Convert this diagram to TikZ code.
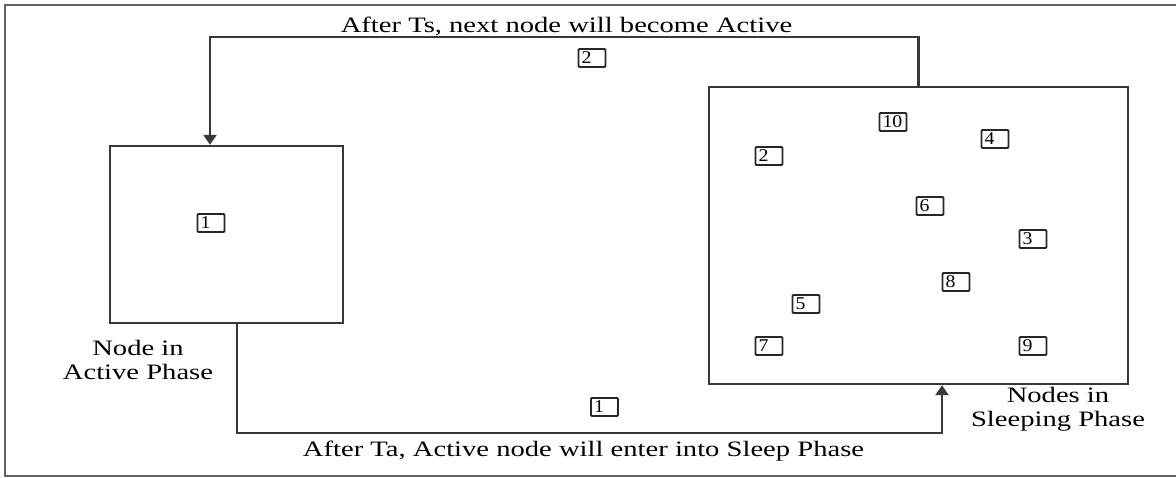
\documentclass[tikz,border=0pt]{standalone}
\usepackage{fontspec}
\setmainfont{Liberation Serif}
\usetikzlibrary{arrows.meta}
\newcommand{\hs}[1]{\scalebox{1.3}[1]{#1}}
\newcommand{\ds}[1]{\scalebox{1.1}[1]{#1}}
\begin{document}
\begin{tikzpicture}[x=1pt,y=-1pt,
  frame/.style={draw=black!62,line width=2pt},
  conn/.style={draw=black!78,line width=2.3pt},
  arr/.style={-{Triangle[width=13pt,length=10pt]}},
  bigbox/.style={draw=black!78,line width=2.4pt,inner sep=0pt},
  numbox/.style={draw=black!85,line width=1.8pt,rounded corners=1pt,
    minimum height=18pt,inner ysep=0pt,inner xsep=3pt,text width=21pt,
    align=left,font=\fontsize{18}{18}\selectfont,text=black},
  lbl/.style={font=\fontsize{22}{24.5}\selectfont,text=black,inner sep=0pt}]
\useasboundingbox (0,0) rectangle (1176,478);
\fill[white] (0,0) rectangle (1176,478);
% outer frame (right side lies outside the picture)
\draw[frame] (1185,5) -- (5,5) -- (5,476) -- (1185,476);

% main boxes
\node[bigbox,minimum width=233pt,minimum height=177pt] (active) at (226.5,234.5) {};
\node[bigbox,minimum width=419pt,minimum height=297pt] (sleep) at (918.5,235.5) {};

% node boxes
\node[numbox] (a1) at (211,223) {\ds{1}};
\node[numbox] (m2) at (592,58) {\ds{2}};
\node[numbox] (m1) at (604.5,407) {\ds{1}};
\node[numbox] (s10) at (893,122) {\ds{10}};
\node[numbox] (s4) at (995,139) {\ds{4}};
\node[numbox] (s2) at (769,156) {\ds{2}};
\node[numbox] (s6) at (930,206) {\ds{6}};
\node[numbox] (s3) at (1033,239) {\ds{3}};
\node[numbox] (s8) at (956,282) {\ds{8}};
\node[numbox] (s5) at (806,304) {\ds{5}};
\node[numbox] (s7) at (769,346) {\ds{7}};
\node[numbox] (s9) at (1033,346) {\ds{9}};

% connectors
\draw[conn,arr] (sleep.north) -- ++(0,-49) -| ([xshift=-16.5pt]active.north);
\draw[conn,arr] ([xshift=10.5pt]active.south) -- ++(0,109) -| ([xshift=23.5pt]sleep.south);

% labels
\node[lbl,anchor=base] (ttop) at (566.5,33) {\hs{After Ts, next node will become Active}};
\node[lbl,anchor=base] (tbot) at (583.5,456) {\hs{After Ta, Active node will enter into Sleep Phase}};
\node[lbl,align=center,anchor=north] (lact) at (138,340) {\hs{Node in}\\\hs{Active Phase}};
\node[lbl,align=center,anchor=north] (lslp) at (1058,387) {\hs{Nodes in}\\\hs{Sleeping Phase}};
\end{tikzpicture}
\end{document}
